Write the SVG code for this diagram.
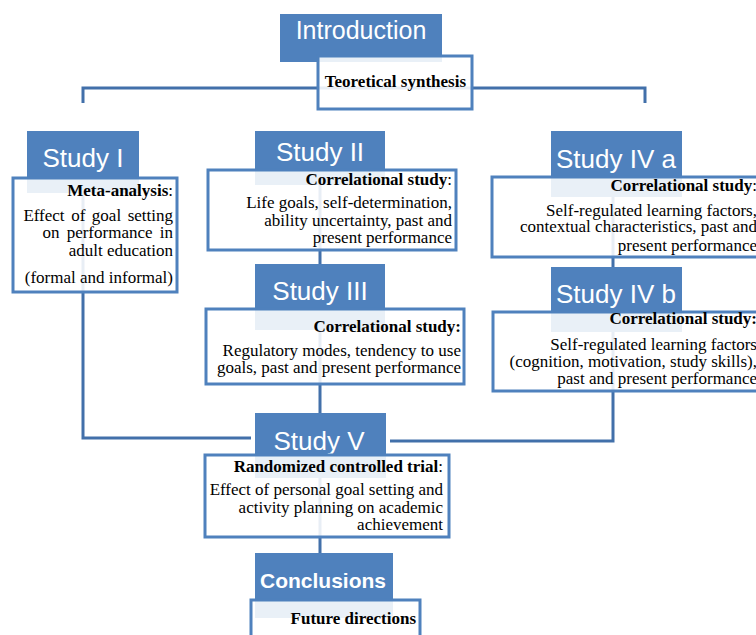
<svg xmlns="http://www.w3.org/2000/svg" width="756" height="635" viewBox="0 0 756 635">
<style>
.hdr{fill:#4F81BD}
.box{fill:#fff;fill-opacity:0.88;stroke:#4F81BD;stroke-width:3}
.ht{font-family:"Liberation Sans",Arial,sans-serif;font-size:26px;fill:#fff;text-anchor:middle}
.bt{font-family:"Liberation Serif","Times New Roman",serif;font-size:17px;fill:#000;text-anchor:end}
.b{font-weight:bold}
.con{fill:none;stroke:#4270AA;stroke-width:3}
</style>
<rect width="756" height="635" fill="#fff"/>
<g id="connectors">
<path class="con" d="M83,103 V88 H645 V103"/>
<path class="con" d="M83,180 V438 H251"/>
<path class="con" d="M320,172 V602"/>
<path class="con" d="M613,179 V441 H390"/>
</g>
<g id="introduction">
<rect class="hdr" x="280" y="14" width="162" height="48"/>
<text class="ht" x="361" y="39" style="font-size:25px">Introduction</text>
<rect class="box" x="318" y="56" width="154" height="53"/>
<text class="bt b" x="466" y="87">Teoretical synthesis</text>
</g>
<g id="study1">
<rect class="hdr" x="27" y="131" width="112" height="62"/>
<text class="ht" x="83" y="167">Study I</text>
<rect class="box" x="13" y="178" width="164" height="114"/>
<text class="bt" x="173" y="196"><tspan class="b">Meta-analysis</tspan>:</text>
<text class="bt" x="173" y="221" word-spacing="2.3">Effect of goal setting</text>
<text class="bt" x="173" y="238" word-spacing="3">on performance in</text>
<text class="bt" x="173" y="256">adult education</text>
<text class="bt" x="173" y="283">(formal and informal)</text>
</g>
<g id="study2">
<rect class="hdr" x="255" y="131" width="130" height="54"/>
<text class="ht" x="320" y="161">Study II</text>
<rect class="box" x="208" y="170" width="248" height="80"/>
<text class="bt" x="452" y="185"><tspan class="b">Correlational study</tspan>:</text>
<text class="bt" x="452" y="208">Life goals, self-determination,</text>
<text class="bt" x="452" y="226">ability uncertainty, past and</text>
<text class="bt" x="452" y="243">present performance</text>
</g>
<g id="study3">
<rect class="hdr" x="255" y="264" width="130" height="66"/>
<text class="ht" x="320" y="300">Study III</text>
<rect class="box" x="206" y="309" width="258" height="75"/>
<text class="bt b" x="461" y="332">Correlational study:</text>
<text class="bt" x="461" y="356">Regulatory modes, tendency to use</text>
<text class="bt" x="461" y="373">goals, past and present performance</text>
</g>
<g id="study4a">
<rect class="hdr" x="551" y="131" width="131" height="66"/>
<text class="ht" x="616" y="168">Study IV a</text>
<rect class="box" x="492" y="177" width="280" height="80"/>
<text class="bt" x="757" y="191"><tspan class="b">Correlational study</tspan>:</text>
<text class="bt" x="757" y="216">Self-regulated learning factors,</text>
<text class="bt" x="757" y="232">contextual characteristics, past and</text>
<text class="bt" x="757" y="251">present performance</text>
</g>
<g id="study4b">
<rect class="hdr" x="551" y="267" width="131" height="65"/>
<text class="ht" x="616" y="303">Study IV b</text>
<rect class="box" x="493" y="312" width="280" height="79"/>
<text class="bt b" x="757" y="324">Correlational study:</text>
<text class="bt" x="757" y="350">Self-regulated learning factors</text>
<text class="bt" x="757" y="367">(cognition, motivation, study skills),</text>
<text class="bt" x="757" y="384">past and present performance</text>
</g>
<g id="study5">
<rect class="hdr" x="255" y="413" width="131" height="65"/>
<text class="ht" x="319" y="450">Study V</text>
<rect class="box" x="205" y="455" width="244" height="82"/>
<text class="bt" x="443" y="472"><tspan class="b">Randomized controlled trial</tspan>:</text>
<text class="bt" x="443" y="495">Effect of personal goal setting and</text>
<text class="bt" x="443" y="513">activity planning on academic</text>
<text class="bt" x="443" y="530">achievement</text>
</g>
<g id="conclusions">
<rect class="hdr" x="255" y="553" width="138" height="65"/>
<text class="ht b" x="323" y="588" style="font-size:21px">Conclusions</text>
<rect class="box" x="251" y="600" width="169" height="50"/>
<text class="bt b" x="416" y="624">Future directions</text>
</g>
</svg>
